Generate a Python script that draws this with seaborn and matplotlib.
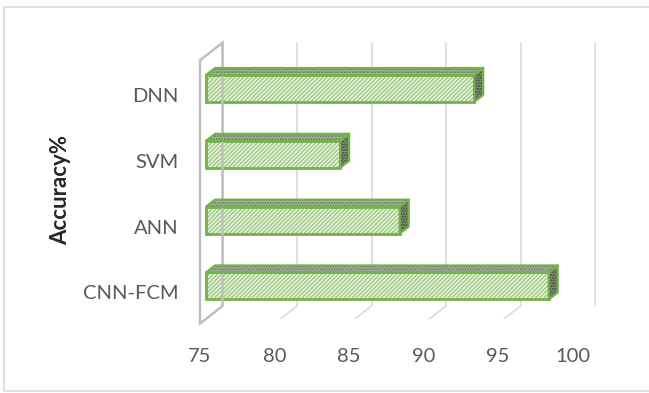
import numpy as np
import pandas as pd
import matplotlib
matplotlib.use("Agg")
import matplotlib.pyplot as plt
from matplotlib.patches import Polygon, Rectangle
from matplotlib.transforms import ScaledTranslation, IdentityTransform
import seaborn as sns

# Accuracy of each model (%)
models = ["DNN", "SVM", "ANN", "CNN-FCM"]
accuracy = [93, 84, 88, 98]
x_ticks = [75, 80, 85, 90, 95, 100]
y_title = "Accuracy%"

df = pd.DataFrame({"model": models, "accuracy": accuracy})

sns.set_theme(style="white")
plt.rcParams["font.family"] = ["Lato", "DejaVu Sans"]
plt.rcParams["hatch.linewidth"] = 1.0

DPI = 100
W, H = 649, 393
fig = plt.figure(figsize=(W / DPI, H / DPI), dpi=DPI)
fig.patch.set_facecolor("white")

# axes = the plane of the bars' front faces
ax_left, ax_right = 206.0, 578.5
ax_top, ax_bottom = 55.6, 318.9
ax = fig.add_axes([ax_left / W, 1 - ax_bottom / H,
                   (ax_right - ax_left) / W, (ax_bottom - ax_top) / H])
ax.set_facecolor("none")

x0 = x_ticks[0]
bar_h = 0.41

# hatched front faces
sns.barplot(data=df, x="accuracy", y="model", order=models, orient="h",
            width=bar_h, color="#e8f3e1", edgecolor="#9ccb7e",
            hatch="////////", linewidth=0, ax=ax, zorder=3)
n_fill = len(ax.patches)
# green outline of the front faces
sns.barplot(data=df, x="accuracy", y="model", order=models, orient="h",
            width=bar_h, fill=False, edgecolor="#74b24b",
            linewidth=2.0, ax=ax, zorder=4)

ax.set_xlim(x0, x_ticks[-1])
ax.set_ylim(len(models) - 0.5, -0.5)

# bars start at the axis minimum
for p in ax.patches:
    right = p.get_x() + p.get_width()
    p.set_x(x0)
    p.set_width(right - x0)
    p.set_clip_on(False)


def shifted(dx, dy):
    return ax.transData + ScaledTranslation(dx / DPI, dy / DPI, fig.dpi_scale_trans)


back = shifted(16.5, 12.9)     # back wall plane
front = shifted(-6.0, -4.7)    # front edge of the floor
y_top, y_floor = -0.5, len(models) - 0.5

grid_c = "#d9d9d9"
for xv in x_ticks:
    # vertical gridline on the back wall
    ax.plot([xv, xv], [y_top, y_floor], transform=back, color=grid_c,
            lw=1.1, zorder=0, clip_on=False)
    # receding floor line: back wall -> front edge
    pb = back.transform((xv, y_floor))
    pf = front.transform((xv, y_floor))
    ax.add_line(plt.Line2D([pb[0], pf[0]], [pb[1], pf[1]],
                           transform=IdentityTransform(), color=grid_c,
                           lw=1.1, zorder=0))

# side wall at the axis minimum
corners = [back.transform((x0, y_top)), back.transform((x0, y_floor)),
           front.transform((x0, y_floor)), front.transform((x0, y_top))]
fig.patches.append(Polygon(corners, closed=True, fill=False,
                           edgecolor="#bfbfbf", lw=1.8,
                           transform=IdentityTransform(), figure=fig,
                           zorder=1))

# depth of each bar (top and end faces)
ddx, ddy = 9.0, 7.0
for p in ax.patches[:n_fill]:
    xa, xb = p.get_x(), p.get_x() + p.get_width()
    yt, yb = p.get_y(), p.get_y() + p.get_height()
    fl = ax.transData.transform((xa, yt))
    fr = ax.transData.transform((xb, yt))
    br = ax.transData.transform((xb, yb))
    top = [fl, fr, fr + (ddx, ddy), fl + (ddx, ddy)]
    end = [fr, br, br + (ddx, ddy), fr + (ddx, ddy)]
    for poly, fc, hc in [(top, "#a9b8a0", "#5f6e58"),
                         (end, "#7e8d76", "#3f4a3a")]:
        fig.patches.append(Polygon(poly, closed=True, facecolor=fc,
                                   edgecolor=hc, hatch="......", lw=0,
                                   transform=IdentityTransform(),
                                   figure=fig, zorder=2))
        fig.patches.append(Polygon(poly, closed=True, fill=False,
                                   edgecolor="#74b24b", lw=1.6,
                                   joinstyle="round",
                                   transform=IdentityTransform(),
                                   figure=fig, zorder=2))

# axes text
txt_c = "#595959"
ax.set_xticks(x_ticks)
ax.set_xticklabels([str(v) for v in x_ticks])
ax.tick_params(axis="both", length=0, labelsize=14.5, labelcolor=txt_c)
ax.tick_params(axis="x", pad=21)
ax.tick_params(axis="y", pad=20)
for lab in ax.get_xticklabels():
    lab.set_transform(lab.get_transform() +
                      ScaledTranslation(-6 / DPI, 0, fig.dpi_scale_trans))
for lab in ax.get_yticklabels():
    lab.set_transform(lab.get_transform() +
                      ScaledTranslation(0, -6.5 / DPI, fig.dpi_scale_trans))

ax.set_xlabel("")
ax.set_ylabel(y_title, fontsize=16, fontweight="bold", color="#262626",
              va="center")
ax.yaxis.set_label_coords((61 - ax_left) / (ax_right - ax_left),
                          (ax_bottom - 190) / (ax_bottom - ax_top))
sns.despine(ax=ax, left=True, bottom=True)

# chart frame
fig.patches.append(Rectangle((4 / W, 1 - 390.5 / H), 660 / W, 383.5 / H,
                             fill=False, edgecolor="#d9d9d9", lw=1.2,
                             transform=fig.transFigure, figure=fig))

fig.savefig("out.png", dpi=DPI, facecolor="white")
